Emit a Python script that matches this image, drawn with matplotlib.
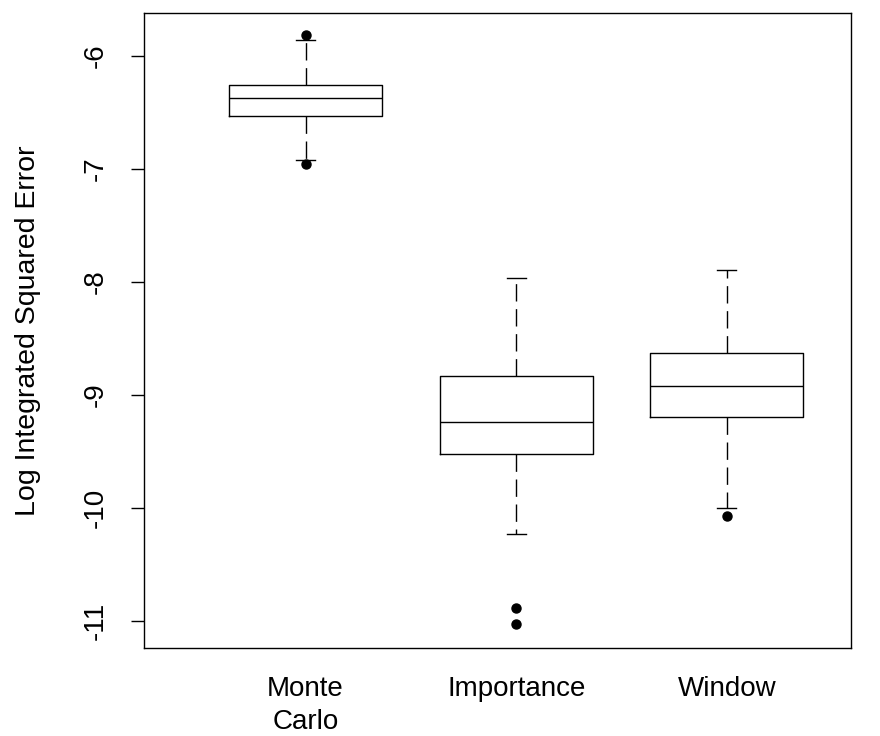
import matplotlib
matplotlib.use('Agg')
import matplotlib.pyplot as plt

plt.rcParams['font.family'] = ['Liberation Sans', 'DejaVu Sans']

methods = ['Monte\nCarlo', 'Importance', 'Window']
q1 = [-6.534, -9.525, -9.192]
med = [-6.374, -9.242, -8.923]
q3 = [-6.254, -8.832, -8.631]
whislo = [-6.920, -10.227, -10.003]
whishi = [-5.856, -7.962, -7.891]
fliers = [[-5.814, -6.953], [-10.882, -11.024], [-10.068]]

stats = []
for i in range(len(methods)):
    stats.append({'q1': q1[i], 'med': med[i], 'q3': q3[i],
                  'whislo': whislo[i], 'whishi': whishi[i],
                  'fliers': fliers[i], 'label': methods[i]})

fig = plt.figure(figsize=(8.8, 7.36), dpi=100)
ax = fig.add_axes([144/880, 1-648/736, (851-144)/880, (648-12.7)/736])

ax.bxp(stats, positions=[1, 2, 3], widths=0.726, showfliers=True,
       boxprops=dict(color='black', linewidth=1.0),
       medianprops=dict(color='black', linewidth=1.0),
       whiskerprops=dict(color='black', linewidth=1.0, dashes=(12.5, 5.5)),
       capprops=dict(color='black', linewidth=1.0),
       capwidths=0.09,
       flierprops=dict(marker='o', markerfacecolor='black', markeredgecolor='black', markersize=6.5))

ax.set_xlim(0.233, 3.589)
ax.set_ylim(-11.239, -5.617)
ax.set_yticks([-6, -7, -8, -9, -10, -11])
ax.set_yticklabels(['-6', '-7', '-8', '-9', '-10', '-11'], rotation=90, va='center', fontsize=20)
ax.tick_params(axis='y', length=9.4, width=1.0, pad=16)
ax.tick_params(axis='x', length=0, pad=20, labelsize=20)
for lab in ax.get_xticklabels():
    lab.set_linespacing(1.35)

for s in ax.spines.values():
    s.set_linewidth(1.0)

ax.set_ylabel('Log Integrated Squared Error', fontsize=20.5, va='center')
ax.yaxis.set_label_coords((28-144)/707, 0.5)

fig.savefig('out.png', dpi=100)
